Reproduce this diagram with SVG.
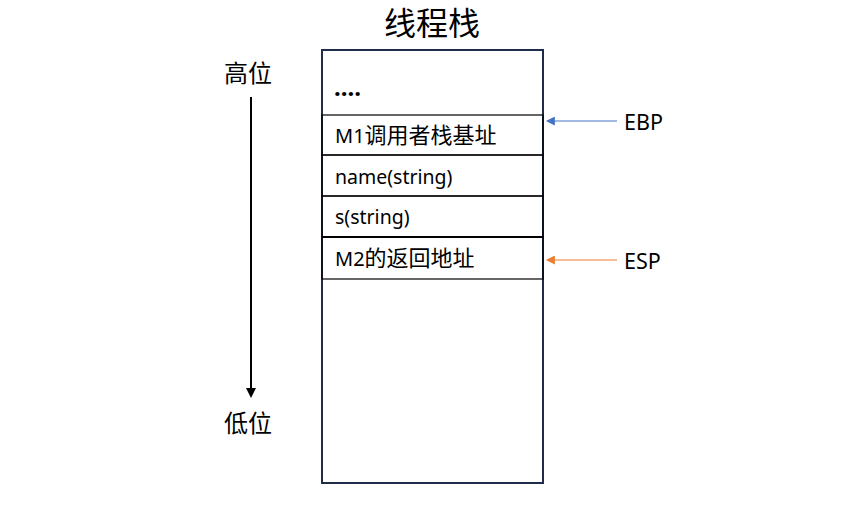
<svg xmlns="http://www.w3.org/2000/svg" width="867" height="509" viewBox="0 0 867 509">
<style>
.t{font-family:"Noto Sans","Noto Sans CJK SC",sans-serif;fill:#000}
.c{font-size:22px}
.cell{fill:none;stroke:#000;stroke-width:1.2}
</style>
<defs>
<marker id="ab" viewBox="0 0 10 10" refX="1" refY="5" markerWidth="10" markerHeight="9" markerUnits="userSpaceOnUse" orient="auto"><path d="M0,0L10,5L0,10z" fill="#4472C4"/></marker>
<marker id="ao" viewBox="0 0 10 10" refX="1" refY="5" markerWidth="10" markerHeight="9" markerUnits="userSpaceOnUse" orient="auto"><path d="M0,0L10,5L0,10z" fill="#ED7D31"/></marker>
<marker id="ak" viewBox="0 0 10 10" refX="1" refY="5" markerWidth="12" markerHeight="10" markerUnits="userSpaceOnUse" orient="auto"><path d="M0,0L10,5L0,10z" fill="#000"/></marker>
</defs>
<rect width="867" height="509" fill="#fff"/>
<text class="t" x="432" y="35" font-size="32" text-anchor="middle">线程栈</text>
<g id="stack">
<rect x="322" y="50" width="221" height="433" fill="#fff" stroke="#1F2D4A" stroke-width="2"/>
</g>
<g id="row0"><text class="t" x="334" y="96" font-size="24" font-weight="bold">....</text></g>
<g id="row1"><rect class="cell" x="322" y="115" width="221" height="40"/><text class="t" x="335" y="143" font-size="20">M1<tspan class="c">调用者栈基址</tspan></text></g>
<g id="row2"><rect class="cell" x="322" y="155" width="221" height="41"/><text class="t" x="335" y="184" font-size="19.5">name(string)</text></g>
<g id="row3"><rect class="cell" x="322" y="196" width="221" height="41"/><text class="t" x="335" y="224" font-size="19.5">s(string)</text></g>
<g id="row4"><rect class="cell" x="322" y="237" width="221" height="42"/><line x1="322" y1="237" x2="543" y2="237" stroke="#000" stroke-width="2"/><text class="t" x="335" y="266" font-size="20">M2<tspan class="c">的返回地址</tspan></text></g>
<g id="high"><text class="t" x="248" y="82" font-size="24" text-anchor="middle">高位</text></g>
<g id="low"><text class="t" x="248" y="432" font-size="24" text-anchor="middle">低位</text></g>
<g id="ebp"><text class="t" x="624" y="130" font-size="21.5">EBP</text></g>
<g id="esp"><text class="t" x="624" y="269" font-size="21.5">ESP</text></g>
<g id="connectors">
<line x1="251" y1="97" x2="251" y2="389" stroke="#000" stroke-width="2" marker-end="url(#ak)"/>
<line x1="617" y1="121" x2="554" y2="121" stroke="#4472C4" stroke-width="1" marker-end="url(#ab)"/>
<line x1="617" y1="260" x2="554" y2="260" stroke="#ED7D31" stroke-width="1" marker-end="url(#ao)"/>
</g>
</svg>
